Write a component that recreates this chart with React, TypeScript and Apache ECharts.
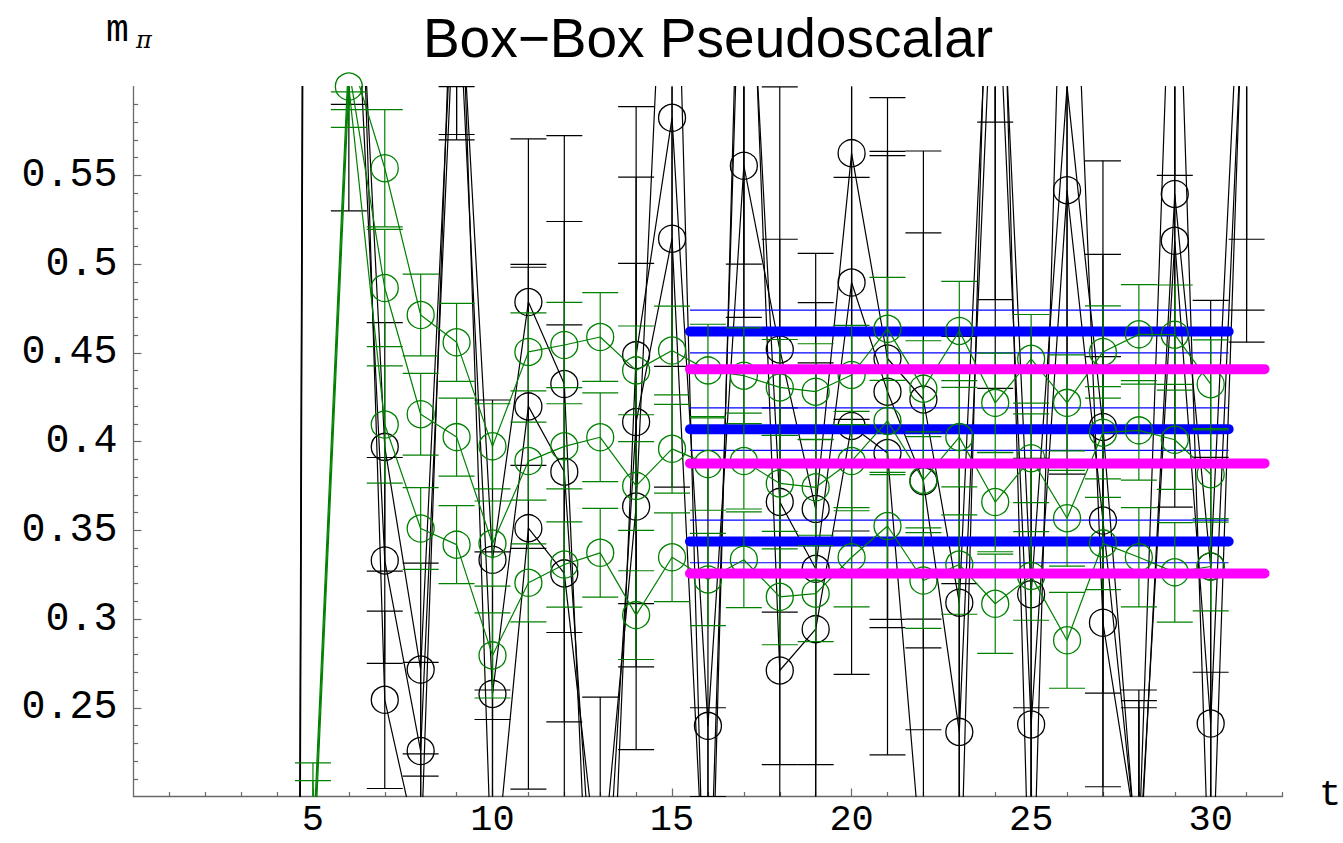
import React, { useEffect, useRef } from "react";
import * as echarts from "echarts";

// ---------- data ----------
const tBlack = [4, 5, 6, 7, 8, 9, 10, 11, 12, 13, 14, 15, 16, 17, 18, 19, 20, 21, 22, 23, 24, 25, 26, 27, 28, 29, 30, 31];
const black1 = [-3.64, 2.36, 0.8, 0.397, 0.2715, 0.7, 0.3334, 0.4786, 0.4324, -0.032, 0.4487, 0.5824, 0.2398, 0.5554, 0.4519, 0.362, 0.5625, 0.4468, 0.4237, 0.3092, 0.75, 0.314, 0.6001, 0.4082, 0.15, 0.5395, 0.3296, 0.75];
const black2 = [-3.6, 2.4, 0.75, 0.333, 0.2256, 0.68, 0.2578, 0.4198, 0.383, 0.078, 0.411, 0.5143, 0.1, 0.75, 0.366, 0.3283, 0.4896, 0.4281, 0.3776, 0.2364, 0.7, 0.2406, 0.5416, 0.3555, 0.16, 0.5131, 0.2411, 0.7];
const black3 = [-3.7, 2.3, 0.9, 0.2545, 0.164, 0.75, 0.14, 0.3512, 0.3257, 0.146, 0.3634, 0.8, 0.05, 0.8, 0.271, 0.2943, 0.4088, 0.3935, 0.15, 0.12, 0.85, 0.1, 0.8, 0.2979, 0.17, 0.75, 0.12, 0.72];
const blackErr1 = [0.3, 0.3, 0.21, 0.07, 0.06, 0.13, 0.09, 0.092, 0.14, 0.1, 0.14, 0.14, 0.15, 0.15, 0.148, 0.144, 0.15, 0.147, 0.14, 0.15, 0.27, 0.15, 0.16, 0.15, 0.1, 0.15, 0.15, 0.236];
const blackErr2 = [0.3, 0.3, 0.22, 0.058, 0.05, 0.107, 0.08, 0.08, 0.141, 0.1, 0.138, 0.14, 0.15, 0.28, 0.148, 0.15, 0.14, 0.133, 0.14, 0.15, 0.27, 0.15, 0.16, 0.15, 0.1, 0.15, 0.15, 0.226];
const blackErr3 = [0.3, 0.3, 0.2, 0.05, 0.06, 0.15, 0.12, 0.147, 0.14, 0.11, 0.137, 0.2, 0.15, 0.3, 0.148, 0.15, 0.14, 0.17, 0.15, 0.2, 0.27, 0.15, 0.2, 0.15, 0.084, 0.2, 0.15, 0.264];

const tGreen = [5, 6, 7, 8, 9, 10, 11, 12, 13, 14, 15, 16, 17, 18, 19, 20, 21, 22, 23, 24, 25, 26, 27, 28, 29, 30];
const green1 = [0.17, 0.62, 0.554, 0.4713, 0.4559, 0.3973, 0.4505, 0.4544, 0.4589, 0.4401, 0.4513, 0.4401, 0.4371, 0.4305, 0.4281, 0.4375, 0.4635, 0.4298, 0.4623, 0.4218, 0.4466, 0.4218, 0.4505, 0.4604, 0.4602, 0.4323];
const green2 = [0.16, 0.61, 0.4865, 0.4154, 0.4025, 0.3425, 0.389, 0.3973, 0.4024, 0.375, 0.3959, 0.3873, 0.389, 0.3764, 0.3742, 0.389, 0.4116, 0.3784, 0.4025, 0.3659, 0.3906, 0.3568, 0.405, 0.4063, 0.401, 0.3816];
const green3 = [0.15, 0.6, 0.4096, 0.351, 0.3419, 0.2795, 0.3204, 0.3307, 0.3373, 0.3022, 0.3348, 0.3223, 0.3334, 0.3125, 0.3143, 0.3348, 0.3524, 0.3217, 0.3307, 0.3086, 0.3243, 0.288, 0.3426, 0.3348, 0.3263, 0.3296];
const greenErr = [0.049, 0.023, 0.033, 0.023, 0.022, 0.024, 0.022, 0.024, 0.025, 0.025, 0.025, 0.026, 0.027, 0.027, 0.027, 0.028, 0.029, 0.027, 0.028, 0.028, 0.025, 0.027, 0.026, 0.028, 0.028, 0.025];

const blueFits = [0.462, 0.407, 0.3437];
const blueBand = 0.012;
const blueRange = [15.5, 30.5];
const magentaFits = [0.4408, 0.3877, 0.3257];
const magentaRange = [15.5, 31.5];

const xMajorTicks = [5, 10, 15, 20, 25, 30];
const xMinorTicks = [1, 2, 3, 4, 6, 7, 8, 9, 11, 12, 13, 14, 16, 17, 18, 19, 21, 22, 23, 24, 26, 27, 28, 29, 31, 32];
const yMajorTicks = [0.25, 0.3, 0.35, 0.4, 0.45, 0.5, 0.55];
const yMinorTicks = [0.21, 0.22, 0.23, 0.24, 0.26, 0.27, 0.28, 0.29, 0.31, 0.32, 0.33, 0.34, 0.36, 0.37, 0.38, 0.39, 0.41, 0.42, 0.43, 0.44, 0.46, 0.47, 0.48, 0.49, 0.51, 0.52, 0.53, 0.54, 0.56, 0.57, 0.58, 0.59];

const GREEN = "#008000";
const BLACK = "#000000";
const BLUE = "#0000ff";
const MAGENTA = "#ff00ff";
const AXIS = "#6a6a6a";
const MONO = "'Liberation Mono', 'DejaVu Sans Mono', monospace";

function errorBarSeries(ts: number[], vals: number[], errs: number[], color: string, z: number) {
  return {
    type: "custom",
    z,
    silent: true,
    xAxisIndex: 0,
    yAxisIndex: 0,
    encode: { x: 0, y: 1 },
    data: ts.map((t, i) => [t, vals[i], errs[i]]),
    renderItem: (params: any, api: any) => {
      const t = api.value(0);
      const v = api.value(1);
      const e = api.value(2);
      const hi = api.coord([t, v + e]);
      const lo = api.coord([t, v - e]);
      const cs = params.coordSys;
      const top = cs.y;
      const bot = cs.y + cs.height;
      const x = hi[0];
      const st = { stroke: color, lineWidth: 1.2, fill: "none" };
      const children: any[] = [];
      const y1 = Math.max(hi[1], top);
      const y2 = Math.min(lo[1], bot);
      if (y2 > y1) children.push({ type: "line", shape: { x1: x, y1, x2: x, y2 }, style: st });
      const hw = 18;
      [hi[1], lo[1]].forEach((yy) => {
        if (yy >= top && yy <= bot) {
          children.push({ type: "line", shape: { x1: x - hw, y1: yy, x2: x + hw, y2: yy }, style: st });
        }
      });
      return { type: "group", children };
    },
  };
}

function pointSeries(ts: number[], vals: number[], color: string, z: number) {
  return {
    type: "line",
    z,
    silent: true,
    clip: true,
    xAxisIndex: 0,
    yAxisIndex: 0,
    data: ts.map((t, i) => [t, vals[i]]),
    symbol: "circle",
    symbolSize: 27,
    itemStyle: { color: "rgba(0,0,0,0)", borderColor: color, borderWidth: 1.3 },
    lineStyle: { color, width: 1.2 },
    emphasis: { disabled: true },
  };
}

function hLine(y: number, range: number[], color: string, width: number, z: number, cap: string) {
  return {
    type: "line",
    z,
    silent: true,
    xAxisIndex: 0,
    yAxisIndex: 0,
    symbol: "none",
    data: [
      [range[0], y],
      [range[1], y],
    ],
    lineStyle: { color, width, cap },
    emphasis: { disabled: true },
  };
}

export default function App() {
  const ref = useRef<HTMLDivElement>(null);
  useEffect(() => {
    if (!ref.current) return;
    const chart = echarts.init(ref.current, undefined, { renderer: "svg" });

    const series: any[] = [];
    series.push(errorBarSeries(tBlack, black1, blackErr1, BLACK, 1));
    series.push(errorBarSeries(tBlack, black2, blackErr2, BLACK, 1));
    series.push(errorBarSeries(tBlack, black3, blackErr3, BLACK, 1));
    series.push(pointSeries(tBlack, black1, BLACK, 2));
    series.push(pointSeries(tBlack, black2, BLACK, 2));
    series.push(pointSeries(tBlack, black3, BLACK, 2));
    blueFits.forEach((y) => {
      series.push(hLine(y + blueBand, blueRange, BLUE, 1.2, 3, "butt"));
      series.push(hLine(y - blueBand, blueRange, BLUE, 1.2, 3, "butt"));
      series.push(hLine(y, blueRange, BLUE, 10, 3, "round"));
    });
    series.push(errorBarSeries(tGreen, green1, greenErr, GREEN, 4));
    series.push(errorBarSeries(tGreen, green2, greenErr, GREEN, 4));
    series.push(errorBarSeries(tGreen, green3, greenErr, GREEN, 4));
    series.push(pointSeries(tGreen, green1, GREEN, 5));
    series.push(pointSeries(tGreen, green2, GREEN, 5));
    series.push(pointSeries(tGreen, green3, GREEN, 5));
    magentaFits.forEach((y) => {
      series.push(hLine(y, magentaRange, MAGENTA, 10, 6, "round"));
    });

    const option: any = {
      animation: false,
      backgroundColor: "#ffffff",
      grid: { left: 133.4, top: 86.6, width: 1149.1, height: 709.9, containLabel: false },
      xAxis: [
        {
          type: "value",
          min: 0,
          max: 32,
          axisLine: { show: true, onZero: false, lineStyle: { color: AXIS, width: 1.3 } },
          axisTick: { show: true, inside: true, length: 8, customValues: xMajorTicks, lineStyle: { color: AXIS, width: 1.2 } },
          axisLabel: {
            show: true,
            customValues: xMajorTicks,
            margin: 5,
            color: "#000",
            fontFamily: MONO,
            fontSize: 37,
            lineHeight: 37,
          },
          splitLine: { show: false },
        },
        {
          type: "value",
          min: 0,
          max: 32,
          position: "bottom",
          axisLine: { show: false, onZero: false },
          axisTick: { show: true, inside: true, length: 4.5, customValues: xMinorTicks, lineStyle: { color: AXIS, width: 1.2 } },
          axisLabel: { show: false },
          splitLine: { show: false },
        },
      ],
      yAxis: [
        {
          type: "value",
          min: 0.2,
          max: 0.6,
          axisLine: { show: true, onZero: false, lineStyle: { color: AXIS, width: 1.3 } },
          axisTick: { show: true, inside: true, length: 8, customValues: yMajorTicks, lineStyle: { color: AXIS, width: 1.2 } },
          axisLabel: {
            show: true,
            customValues: yMajorTicks,
            margin: 16,
            color: "#000",
            fontFamily: MONO,
            fontSize: 40,
            lineHeight: 34,
            formatter: (v: number) => String(parseFloat(v.toFixed(2))),
          },
          splitLine: { show: false },
        },
        {
          type: "value",
          min: 0.2,
          max: 0.6,
          position: "left",
          axisLine: { show: false, onZero: false },
          axisTick: { show: true, inside: true, length: 4.7, customValues: yMinorTicks, lineStyle: { color: AXIS, width: 1.2 } },
          axisLabel: { show: false },
          splitLine: { show: false },
        },
      ],
      graphic: [
        {
          type: "text",
          x: 708,
          y: 38,
          style: {
            text: "Box\u2212Box Pseudoscalar",
            fill: "#000",
            font: "55px 'Liberation Sans', Arial, sans-serif",
            textAlign: "center",
            textVerticalAlign: "middle",
          },
        },
        {
          type: "text",
          x: 106,
          y: 30,
          style: {
            text: "m",
            fill: "#000",
            font: "38px 'Liberation Mono', monospace",
            textVerticalAlign: "middle",
          },
        },
        {
          type: "text",
          x: 136,
          y: 40,
          style: {
            text: "\u03c0",
            fill: "#000",
            font: "italic 24px 'DejaVu Serif', serif",
            textVerticalAlign: "middle",
          },
        },
        {
          type: "text",
          x: 1319,
          y: 795,
          style: {
            text: "t",
            fill: "#000",
            font: "37px 'Liberation Mono', monospace",
            textVerticalAlign: "middle",
          },
        },
      ],
      series,
    };
    chart.setOption(option);
    return () => {
      chart.dispose();
    };
  }, []);
  return (
    <div
      ref={ref}
      style={{ position: "fixed", left: 0, top: 0, width: 1343, height: 843, background: "#fff" }}
    />
  );
}
